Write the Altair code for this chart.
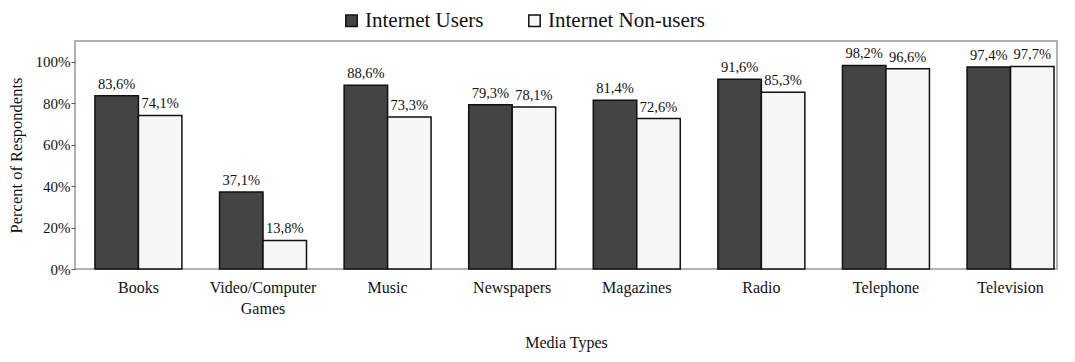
import altair as alt
import pandas as pd

categories = ["Books", "Video/Computer|Games", "Music", "Newspapers", "Magazines", "Radio", "Telephone", "Television"]
users = [83.6, 37.1, 88.6, 79.3, 81.4, 91.6, 98.2, 97.4]
non_users = [74.1, 13.8, 73.3, 78.1, 72.6, 85.3, 96.6, 97.7]
series = ["Internet Users", "Internet Non-users"]

rows = []
for c, u, n in zip(categories, users, non_users):
    rows.append({"cat": c, "series": series[0], "value": u})
    rows.append({"cat": c, "series": series[1], "value": n})
df = pd.DataFrame(rows)
df["label"] = df["value"].map(lambda v: f"{v:.1f}%".replace(".", ","))

FONT = "Liberation Serif"

base = alt.Chart(df).encode(
    x=alt.X("cat:N", sort=categories, title="Media Types",
            scale=alt.Scale(paddingInner=0.302, paddingOuter=0.092, align=0.87),
            axis=alt.Axis(labelAngle=0, labelExpr="split(datum.label, '|')",
                          labelFontSize=16, titleFontSize=16, titlePadding=18,
                          ticks=False, domain=False, labelPadding=10,
                          labelLineHeight=21, labelColor="#111", titleColor="#111",
                          titleFontWeight="normal", labelFont=FONT, titleFont=FONT)),
    xOffset=alt.XOffset("series:N", sort=series),
)

bars = base.mark_bar(stroke="#111", strokeWidth=1.5).encode(
    y=alt.Y("value:Q", title="Percent of Respondents",
            scale=alt.Scale(domain=[0, 110], nice=False),
            axis=alt.Axis(values=[0, 20, 40, 60, 80, 100], labelExpr="datum.value + '%'",
                          grid=False, labelFontSize=15, titleFontSize=16.5,
                          tickColor="#555", tickSize=4, domain=False,
                          labelColor="#111", titleColor="#111", titlePadding=11,
                          titleFontWeight="normal", labelFont=FONT, titleFont=FONT,
                          labelPadding=1)),
    color=alt.Color("series:N", sort=series,
                    scale=alt.Scale(domain=series, range=["#444444", "#f6f6f6"]),
                    legend=alt.Legend(orient="none", legendX=266, legendY=-31,
                                      direction="horizontal", title=None, labelFontSize=21,
                                      symbolType="square", symbolSize=130,
                                      symbolStrokeColor="#111", symbolStrokeWidth=1.5,
                                      labelColor="#111", columnPadding=40, labelOffset=3,
                                      labelFont=FONT)),
)

text = base.mark_text(dy=-11, fontSize=14.5, font=FONT, color="#111").encode(
    y=alt.Y("value:Q"),
    text="label:N",
)

chart = (bars + text).properties(width=982, height=228).configure(
    font=FONT, padding={"left": 0, "top": 2, "right": 5, "bottom": 5}
).configure_view(stroke="#999", strokeWidth=1.5)

chart.save("out.html", embed_options={"renderer": "svg", "actions": False})
